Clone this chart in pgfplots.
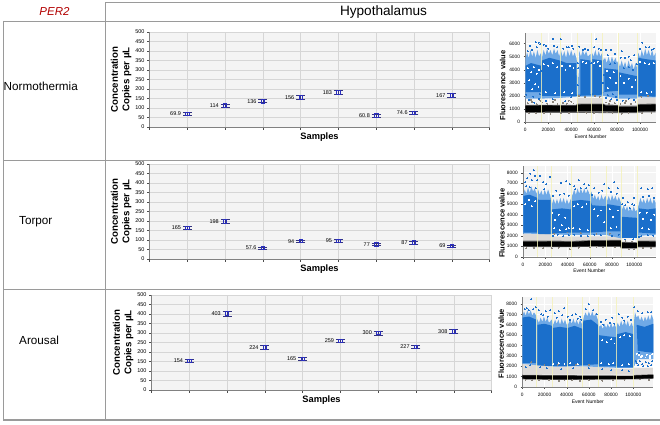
\documentclass[border=0pt]{standalone}
\usepackage{pgfplots}
\usepackage{pgfplotstable}
\usepackage{fontspec}
\setmainfont{Liberation Sans}
\pgfplotsset{compat=1.18}
\definecolor{rule}{HTML}{9A9A9A}
\definecolor{plotbg}{HTML}{F4F4F4}
\definecolor{gridc}{HTML}{D6D6D6}
\definecolor{dropblue}{HTML}{1B6FCB}
\definecolor{lightblue}{HTML}{6FA9E6}
\definecolor{ptblue}{HTML}{2A2FC0}
\definecolor{capc}{HTML}{33337F}
\definecolor{dropgrey}{HTML}{8C857C}
\definecolor{wellline}{HTML}{F4F2B8}
\pgfplotstableread{
x y err lab
1 69.9 7 69.9
2 114 8 114
3 136 8 136
4 156 9 156
5 183 10 183
6 60.8 7 60.8
7 74.6 7 74.6
8 167 9 167
}\dataN
\pgfplotstableread{
x y err lab
1 165 9 165
2 198 10 198
3 57.6 6 57.6
4 94 7 94
5 95 8 95
6 77 6 77
7 87 7 87
8 69 6 69
}\dataT
\pgfplotstableread{
x y err lab
1 154 8 154
2 403 14 403
3 224 9 224
4 165 10 165
5 259 10 259
6 300 11 300
7 227 9 227
8 308 11 308
}\dataA
\pgfplotsset{
  conc/.style={
    scale only axis, width=340pt, height=95pt,
    xmin=0, xmax=9, ymin=0, ymax=500,
    xtick={0,...,9}, xticklabels={},
    ytick={0,50,...,500},
    xmajorgrids, ymajorgrids,
    grid style={gridc,line width=0.4pt},
    axis background/.style={fill=plotbg},
    axis line style={gridc!60!black,line width=0.5pt},
    axis x line*=bottom, axis y line*=left,
    major tick length=2.5pt, tick align=outside,
    tick style={black!70,line width=0.4pt},
    tick label style={font=\fontsize{5.5}{6}\selectfont},
    yticklabel style={xshift=1pt},
    /pgf/number format/assume math mode=true,
    xlabel={\textbf{Samples}},
    xlabel style={font=\fontsize{9.3}{10}\selectfont,yshift=7pt},
    ylabel style={font=\fontsize{9.7}{11.5}\selectfont\bfseries,align=center,yshift=-3pt},
    ylabel={Concentration\\Copies per µL},
    clip=false,
  },
  concpts/.style={
    only marks, ptblue,
    mark=square, mark size=1.7pt,
    mark options={ptblue,line width=0.7pt,fill=white},
    point meta=explicit symbolic, nodes near coords,
    every node near coord/.style={anchor=east,xshift=-6pt,yshift=0pt,text=black,
      font=\fontsize{5.5}{6}\selectfont,inner sep=0pt},
    error bars/y dir=both, error bars/y explicit,
    error bars/error bar style={capc,line width=0.4pt},
    error bars/error mark options={rotate=90,mark size=4.5pt,capc,line width=0.5pt},
  },
  fluor/.style={
    scale only axis, tick align=outside,
    axis background/.style={fill=plotbg},
    axis line style={gridc!60!black,line width=0.4pt},
    axis x line*=bottom, axis y line*=left,
    ymajorgrids, xmajorgrids,
    grid style={white,line width=0.5pt},
    major tick length=1.8pt,
    tick style={black!70,line width=0.3pt},
    tick label style={font=\fontsize{4.8}{5}\selectfont},
    xticklabel style={yshift=-0.8pt},
    scaled x ticks=false, scaled y ticks=false,
    xtick={0,20000,40000,60000,80000,100000},
    xticklabels={0,20000,40000,60000,80000,100000},
    xlabel={Event Number},
    xlabel style={font=\fontsize{5}{6}\selectfont,yshift=4pt},
    ylabel={Fluorescence value},
    ylabel style={font=\fontsize{7.5}{8}\selectfont\bfseries},
  },
  outer/.style={fill=lightblue,draw=none,forget plot},
  core/.style={fill=dropblue,draw=none,forget plot},
  greyband/.style={fill=dropgrey!30,draw=none,forget plot},
  fringe/.style={fill=black!60,draw=none,forget plot},
  blackband/.style={fill=black,draw=none,forget plot},
  bdots/.style={dropblue,only marks,mark=*,mark size=0.5pt,mark options={draw=dropblue,fill=dropblue,line width=0pt},forget plot},
  gdots/.style={dropgrey,only marks,mark=*,mark size=0.42pt,mark options={draw=dropgrey,fill=dropgrey,line width=0pt},forget plot},
  wdots/.style={white,only marks,mark=*,mark size=0.45pt,mark options={draw=white,fill=white,line width=0pt},forget plot},
  wells/.style={ycomb,no marks,wellline,line width=0.9pt,opacity=0.8,forget plot},
}
\begin{document}
\begin{tikzpicture}[x=1pt,y=1pt]
\path[use as bounding box] (0,0) rectangle (660,424);
% table rules
\draw[rule,line width=0.9pt] (105.5,421.5) -- (660,421.5);
\draw[rule,line width=0.9pt] (3,403) -- (660,403);
\draw[rule,line width=1pt] (3,263.5) -- (660,263.5);
\draw[rule,line width=1pt] (3,134.5) -- (660,134.5);
\draw[rule,line width=1.2pt] (3,4) -- (660,4);
\draw[rule,line width=0.8pt] (3,403) -- (3,4);
\draw[rule,line width=0.7pt] (105.5,421.5) -- (105.5,4);
% headings
\node[text=red!70!black,font=\fontsize{11.5}{12}\selectfont\itshape] at (54.5,413) {PER2};
\node[font=\fontsize{13.6}{14}\selectfont] at (383.5,412.5) {Hypothalamus};
\node[anchor=west,inner sep=0pt,font=\fontsize{11.7}{12}\selectfont] at (3.5,338) {Normothermia};
\node[anchor=west,inner sep=0pt,font=\fontsize{11.7}{12}\selectfont] at (19,202) {Torpor};
\node[anchor=west,inner sep=0pt,font=\fontsize{11.7}{12}\selectfont] at (19,84) {Arousal};
% concentration panels
\begin{axis}[conc,at={(149.5pt,297pt)},anchor=south west]
\addplot[concpts] table[x=x,y=y,y error=err,meta=lab] {\dataN};
\end{axis}
\begin{axis}[conc,at={(149.5pt,165pt)},anchor=south west]
\addplot[concpts] table[x=x,y=y,y error=err,meta=lab] {\dataT};
\end{axis}
\begin{axis}[conc,at={(151.5pt,34pt)},anchor=south west]
\addplot[concpts] table[x=x,y=y,y error=err,meta=lab] {\dataA};
\end{axis}
% fluorescence, normothermia
\begin{axis}[fluor,at={(525.3pt,301.7pt)},anchor=south west,width=130.4pt,height=89.6pt,
  ylabel style={at={(ticklabel cs:0.41)},yshift=-3pt},
  xmin=0,xmax=113660,ymin=0,ymax=6810,ytick={0,1000,2000,3000,4000,5000,6000},yticklabels={0,1000,2000,3000,4000,5000,6000}]
\addplot[greyband] coordinates {(45000,1300)(45000,1850)(68000,1850)(68000,1300)} --cycle;
\addplot[greyband] coordinates {(98000,1300)(98000,1800)(113660,1900)(113660,1300)} --cycle;
\addplot[outer] coordinates {(0,1800)(0,4800)(1500,5300)(3000,4900)(4500,5500)(6000,5000)(7500,5400)(9000,4900)(10500,5500)(12000,5000)(13800,5300)(14500,4900)(16000,5500)(17500,5100)(19000,5600)(20500,5200)(22000,5500)(23500,5100)(25000,5600)(26500,5200)(28000,5500)(29500,5000)(31000,5500)(32500,5000)(34000,5400)(35500,4900)(37000,5500)(38500,5000)(40000,5500)(41500,5000)(43000,5300)(44800,4800)(45300,3500)(46500,3400)(47000,5400)(48500,5000)(50000,5500)(51500,5100)(53000,5400)(54500,5000)(56800,5200)(57500,3700)(58000,5300)(59500,5000)(61000,5500)(62500,5000)(64000,5400)(65500,5000)(67000,5300)(68000,4700)(69500,4900)(71000,4500)(72500,5000)(74000,4500)(75500,5000)(77000,4600)(78500,4900)(80000,4500)(81000,4700)(82500,4200)(84000,4700)(85500,4200)(87000,4600)(88500,4100)(90000,4700)(91500,4200)(93000,4500)(94500,4000)(96000,4500)(97500,4100)(98500,5300)(100000,4900)(101500,5500)(103000,5000)(104500,5600)(106000,5100)(107500,5500)(109000,5000)(110500,5500)(112000,5000)(113660,5300)(113660,1900)(98000,1900)(97000,1800)(81000,1800)(68000,2000)(67000,1950)(45000,1950)(30000,1850)(14000,1800)} --cycle;
\addplot[core] coordinates {(300,2300)(300,4300)(5000,4500)(13800,4300)(14500,4700)(21000,4900)(30000,4700)(36000,4500)(44500,4500)(44800,2100)(48000,2100)(48000,4800)(56500,4700)(56500,2100)(58500,2200)(58500,4800)(67000,4700)(67000,2300)(69000,2300)(69000,4100)(80500,4000)(81500,3800)(97500,3500)(97500,2100)(81500,2100)(81000,2400)(68000,2300)(67000,2100)(44500,2000)(30000,2000)(14500,2000)(14000,2300)} --cycle;
\addplot[core] coordinates {(98500,2000)(98500,4900)(105000,4800)(113660,4700)(113660,1950)} --cycle;
\addplot[fringe] coordinates {(0,720)(0,1330)(44500,1330)(45000,1420)(68000,1420)(70000,1340)(80500,1330)(81500,1260)(97500,1260)(98000,1400)(113660,1420)(113660,760)(98000,740)(97000,700)(0,720)} --cycle;
\addplot[blackband] coordinates {(0,800)(0,1260)(14000,1280)(44500,1270)(45000,1350)(68000,1370)(70000,1270)(80500,1260)(81500,1180)(97500,1180)(98000,1330)(113660,1360)(113660,860)(98000,830)(97000,780)(81500,780)(80000,830)(68000,860)(45000,870)(44500,820)(14000,800)} --cycle;
\addplot[wdots] coordinates {(2000,4100)(5000,3800)(7500,4200)(10000,3700)(12000,4000)(3500,3200)(8500,2900)(11500,2700)(6000,2500)(16000,4400)(20000,4300)(24000,4500)(28000,4200)(32000,4300)(35000,4000)(39000,4300)(42000,4100)(18000,2300)(26000,2200)(34000,2300)(41000,2200)(71000,3900)(74000,3400)(77000,3800)(79000,3000)(72000,2600)(83000,3500)(86000,3000)(90000,3300)(93000,2700)(96000,3200)(100000,4600)(104000,4500)(108000,4400)(112000,4500)(101000,2300)(106000,2200)(110000,2300)(50000,4600)(53000,4500)(60000,4500)(63000,4600)(65000,4300)};
\addplot[bdots] coordinates {(9000,6100)(11500,6050)(13000,5950)(24000,6350)(31000,6300)(18000,5800)(38000,5700)(47000,5750)(52000,5600)(62000,6300)(70000,5500)(84000,5400)(102000,6050)(108000,5700)(4000,5800)(16000,5900)(28000,5700)(42000,5600)(55000,5500)(60000,5700)(66000,5500)(75000,5500)(90000,5000)(95000,5100)(100000,5600)(112000,5600)(2000,5400)(6000,5500)(10000,5700)(20000,5600)(25000,5800)(33000,5600)(36000,5700)(41000,5800)(50000,5500)(64000,5600)(72000,5100)(78000,5200)(83000,4900)(87000,4900)(92000,4700)(105000,5700)(110000,5500)(3000,1700)(8000,1500)(12000,1800)(18000,1650)(24000,1750)(35000,1600)(40000,1900)(70000,1850)(75000,1750)(80000,1700)(85000,1650)(90000,1800)(95000,1700)(72000,2050)(76000,2150)(79000,1950)(7000,1950)(1000,2100)(12500,2150)(13000,3200)(13500,3900)(45800,4500)(46300,4100)(45500,2800)(57500,4500)(68000,3000)(68500,3600)(90000,4200)(86000,4100)(94000,4000)(97000,4400)(74000,4400)(78000,4500)};
\addplot[gdots] coordinates {(2000,1450)(6000,1550)(10000,1380)(15000,1500)(19000,1420)(24000,1560)(28000,1400)(33000,1480)(38000,1650)(42000,1430)(70000,1500)(74000,1620)(78000,1450)(83000,1380)(87000,1480)(92000,1400)(96000,1520)(3000,700)(9000,680)(16000,710)(22000,660)(31000,690)(38000,720)(46000,750)(53000,730)(60000,700)(71000,740)(76000,690)(84000,650)(90000,680)(102000,700)(110000,720)(47000,2000)(52000,1950)(61000,2000)(65000,1950)(101000,1950)(107000,2000)(5000,1700)(13000,1650)(26000,1700)(36000,1420)(40000,1560)(73000,1400)(88000,1620)};
\addplot[wells] coordinates {(14200,6810)(30800,6810)(45300,6810)(57300,6810)(67400,6810)(81100,6810)(98000,6810)};
\end{axis}
% fluorescence, torpor
\begin{axis}[fluor,at={(523pt,167.3pt)},anchor=south west,width=132.7pt,height=90.7pt,
  ylabel style={at={(ticklabel cs:0.37)},yshift=-4.5pt},
  xmin=0,xmax=119200,ymin=0,ymax=8635,ytick={0,1000,2000,3000,4000,5000,6000,7000,8000},yticklabels={0,1000,2000,3000,4000,5000,6000,7000,8000}]
\addplot[greyband] coordinates {(0,1400)(0,2150)(25000,2150)(25000,1450)} --cycle;
\addplot[greyband] coordinates {(25000,1450)(25000,1900)(88000,1950)(88000,1450)} --cycle;
\addplot[greyband] coordinates {(103000,1400)(103000,1900)(119200,1900)(119200,1400)} --cycle;
\addplot[outer] coordinates {(0,2200)(0,5800)(1500,6400)(3000,6000)(4500,6600)(6000,6100)(7500,6700)(9000,6200)(10500,6500)(12000,6000)(13500,6400)(15000,5900)(16500,6300)(18000,5800)(19500,6400)(21000,5900)(22500,6400)(24500,5800)(26000,5000)(27500,5500)(29000,5000)(30500,5500)(32000,5000)(33500,5600)(35000,5100)(36500,5600)(38000,5000)(39500,5500)(41000,5000)(43000,5500)(44500,5900)(46000,6400)(47500,5900)(49000,6500)(50500,6000)(52000,6500)(53500,6000)(55000,6500)(56500,6000)(58000,6400)(60000,5900)(61500,6200)(63000,5500)(64500,5900)(66000,5400)(67500,5800)(69000,5300)(70500,5900)(72000,5400)(74000,5800)(75500,5300)(77000,5800)(78500,5300)(80000,5900)(81500,5400)(83000,5800)(84500,5300)(86000,5700)(87800,5200)(89000,4500)(90500,4900)(92000,4400)(93500,4800)(95000,4300)(96500,4700)(98000,4300)(99500,4800)(101000,4300)(102800,4500)(104000,5000)(105500,5600)(107000,5100)(108500,5500)(110000,5000)(111500,5600)(113000,5100)(114500,5600)(116000,5000)(117500,5500)(119200,5100)(119200,2050)(103000,2000)(88000,1750)(75000,2050)(43000,2050)(25000,2150)} --cycle;
\addplot[core] coordinates {(300,2300)(300,5800)(6000,5900)(13000,5600)(14000,5400)(24800,5400)(24800,2150)(14000,2150)(13000,2300)} --cycle;
\addplot[core] coordinates {(25500,2200)(25500,4500)(35000,4600)(42800,4500)(44000,5300)(52000,5400)(60800,5300)(62000,4900)(74000,4800)(76000,5000)(87500,4800)(87500,2400)(75000,2400)(61000,2300)(44000,2300)(42000,2300)} --cycle;
\addplot[core] coordinates {(88500,1800)(88500,3800)(102500,3700)(102500,1800)} --cycle;
\addplot[core] coordinates {(104000,2300)(104000,4600)(112000,4500)(119200,4600)(119200,2200)} --cycle;
\addplot[fringe] coordinates {(0,930)(0,1520)(25000,1540)(43000,1500)(61000,1580)(88000,1600)(88000,1420)(103000,1370)(103000,1540)(119200,1530)(119200,900)(103000,880)(102000,770)(88000,770)(87500,940)(61000,950)(43000,900)(13000,920)} --cycle;
\addplot[blackband] coordinates {(0,1000)(0,1430)(25000,1450)(43000,1410)(61000,1500)(88000,1530)(88000,1340)(103000,1290)(103000,1460)(119200,1440)(119200,960)(103000,950)(102000,830)(88000,830)(87500,1000)(61000,1000)(43000,960)(13000,980)} --cycle;
\addplot[wdots] coordinates {(2000,5000)(5000,5400)(8000,4800)(11000,5300)(26500,4200)(29000,3500)(32000,4000)(35000,3000)(38000,3700)(41000,2700)(28000,2700)(33000,2500)(39000,2600)(46000,4800)(49000,5000)(53000,4700)(57000,5000)(45000,2700)(51000,2600)(58000,2500)(64000,4500)(67000,3900)(70000,4400)(73000,3300)(78000,4500)(81000,3800)(85000,4400)(84000,2800)(79000,2700)(105000,4200)(108000,3600)(111000,4200)(115000,3500)(118000,4000)(107000,2700)(113000,2600)};
\addplot[bdots] coordinates {(6500,7900)(9500,8250)(11000,7700)(4000,7450)(2000,7100)(8000,7300)(13000,7300)(15000,7700)(18000,7100)(21000,6900)(24000,7600)(30000,6300)(34000,7050)(39000,7200)(42000,6900)(46000,6700)(50000,7300)(55000,6900)(59000,6800)(64000,6500)(68000,6100)(73000,6900)(77000,6500)(82000,7100)(85000,6500)(90000,5600)(94000,5200)(98000,5000)(100000,5600)(106000,6500)(112000,6400)(116000,6500)(3000,6700)(6000,6600)(11500,6500)(19000,6400)(27000,5800)(33000,5900)(37000,6000)(41000,5800)(47000,6400)(52000,6500)(57000,6500)(62000,5900)(71000,6300)(79000,6200)(84000,6000)(89000,5000)(92000,4900)(96000,4600)(100000,4900)(108000,5700)(113000,5800)(118000,5600)(27000,2000)(31000,2100)(36000,1950)(41000,2050)(46000,2100)(52000,2000)(58000,1950)(64000,2100)(70000,2050)(80000,2000)(86000,2100)(106000,1950)(112000,2050)(117000,2000)(92000,1600)(99000,1650)(104000,1900)};
\addplot[gdots] coordinates {(3000,800)(10000,850)(18000,820)(26000,800)(32000,850)(42000,720)(50000,850)(60000,880)(66000,900)(72000,880)(83000,870)(95000,700)(100000,730)(108000,840)(115000,830)(28000,2200)(40000,2300)(52000,2250)(66000,2200)(78000,2200)(92000,1500)(98000,1450)};
\addplot[wells] coordinates {(13200,8635)(25100,8635)(43100,8635)(61000,8635)(74900,8635)(88000,8635)(103000,8635)};
\end{axis}
% fluorescence, arousal
\begin{axis}[fluor,at={(522.3pt,37pt)},anchor=south west,width=131pt,height=90.3pt,
  ylabel style={at={(ticklabel cs:0.48)},yshift=-4.5pt},
  xmin=0,xmax=118000,ymin=0,ymax=8710,ytick={0,1000,2000,3000,4000,5000,6000,7000,8000},yticklabels={0,1000,2000,3000,4000,5000,6000,7000,8000}]
\addplot[greyband] coordinates {(0,1200)(0,2250)(13000,2200)(27000,1950)(68000,2000)(85000,1750)(100000,1750)(100000,1200)} --cycle;
\addplot[greyband] coordinates {(100000,1200)(100000,1800)(118000,1800)(118000,1200)} --cycle;
\addplot[outer] coordinates {(0,2250)(0,6800)(1500,7300)(3000,6900)(4500,7400)(6000,7000)(7500,7400)(9000,6900)(10500,7200)(12500,6900)(13500,6500)(15000,6200)(16500,6700)(18000,6300)(19500,6800)(21000,6300)(22500,6700)(24000,6200)(26500,6500)(28000,6000)(29500,6500)(31000,6100)(32500,6500)(34000,6000)(35500,6600)(37000,6100)(38500,6500)(40000,6000)(41500,6100)(43000,6500)(44500,6100)(46000,6600)(47500,6100)(49000,6500)(50500,6000)(52000,6500)(54000,6000)(55500,6800)(57000,7200)(58500,6800)(60000,7300)(61500,6800)(63000,7300)(64500,6800)(66000,7100)(68000,6500)(69500,5800)(71000,6000)(72500,5600)(74000,6100)(75500,5700)(77000,6100)(78500,5700)(80000,6200)(81500,5700)(83000,6100)(84500,5700)(86000,6200)(87500,5800)(89000,6400)(90500,5900)(92000,6500)(93500,5900)(95000,6400)(96500,5800)(98500,6200)(100000,5700)(101500,7200)(103000,6700)(104500,6900)(106000,6400)(107500,6800)(109000,6300)(110500,6800)(112000,6400)(113500,6900)(115000,6400)(116500,7000)(118000,6500)(118000,2700)(104000,2700)(100000,1850)(85000,1850)(54000,2000)(27000,2000)(13000,2100)} --cycle;
\addplot[core] coordinates {(300,2300)(300,6700)(6000,6800)(12500,6500)(12500,2300)} --cycle;
\addplot[core] coordinates {(13500,2100)(13500,6000)(20000,6100)(26800,5900)(27500,5700)(34000,5800)(40000,5700)(41000,5700)(47000,5900)(54500,5600)(55000,6400)(62000,6500)(68000,6000)(69000,5000)(76000,4900)(84500,4800)(85500,5100)(93000,5300)(100000,5100)(100000,1900)(85500,1900)(84500,2000)(69000,2000)(68000,2200)(55000,2100)(41000,2000)(27000,2000)} --cycle;
\addplot[core] coordinates {(104000,3500)(103000,6000)(110000,5800)(118000,6100)(118000,3300)(110000,3400)} --cycle;
\addplot[fringe] coordinates {(0,730)(0,1170)(30000,1150)(54000,1130)(100000,1100)(100000,1150)(118000,1230)(118000,790)(100000,730)(54000,690)(30000,680)} --cycle;
\addplot[blackband] coordinates {(0,800)(0,1120)(30000,1100)(54000,1080)(100000,1050)(100000,1100)(118000,1180)(118000,850)(100000,790)(54000,750)(30000,740)} --cycle;
\addplot[wdots] coordinates {(102000,2100)(105000,3100)(108000,3000)(112000,3100)(115000,3000)(103000,3200)(107000,2900)(111000,2850)(115000,2800)(117000,3150)(28000,2200)(33000,2300)(38000,2200)(43000,2300)(50000,2200)(72000,4500)(76000,4300)(80000,4600)(83000,4200)(71000,2300)(78000,2200)(82000,2300)(90000,2100)(96000,2200)(88000,4800)(92000,5000)(97000,4900)};
\addplot[bdots] coordinates {(8000,8450)(4000,7600)(10000,7500)(12000,7700)(15000,7400)(21000,7300)(25000,7400)(17000,7000)(29000,7100)(33000,7300)(38000,7600)(41000,6800)(45000,6900)(48000,7000)(52000,6800)(57000,7500)(60000,8000)(64000,7400)(67000,7000)(71000,6300)(75000,6500)(81000,6700)(87000,7000)(90000,6700)(95000,6800)(98000,6500)(101000,7700)(104000,7300)(108000,7100)(113000,7200)(116000,7200)(2000,7500)(6000,7400)(19000,6900)(23000,6800)(31000,6700)(36000,6900)(43000,6500)(50000,6600)(53000,6500)(73000,6000)(79000,6200)(83000,6100)(92000,6400)(106000,2500)(108000,2200)(111000,2400)(114000,2300)(116000,2100)(104500,2100)(102000,2500)(103000,2300)(109000,2000)(113000,2000)(105000,3300)(117000,2500)(7000,2100)(3000,1900)(16000,1900)(22000,1800)(35000,1700)(46000,1800)(60000,1800)(72000,1700)(80000,1600)(90000,1600)(96000,1500)};
\addplot[gdots] coordinates {(3000,700)(9000,660)(15000,640)(24000,680)(33000,610)(38000,620)(45000,650)(52000,600)(60000,640)(72000,610)(82000,680)(92000,640)(106000,720)(114000,700)(8000,2400)(20000,2100)(32000,2150)(48000,2150)(60000,2150)};
\addplot[wells] coordinates {(12900,8710)(27000,8710)(40500,8710)(54600,8710)(68500,8710)(85000,8710)(100300,8710)};
\end{axis}
\end{tikzpicture}
\end{document}
